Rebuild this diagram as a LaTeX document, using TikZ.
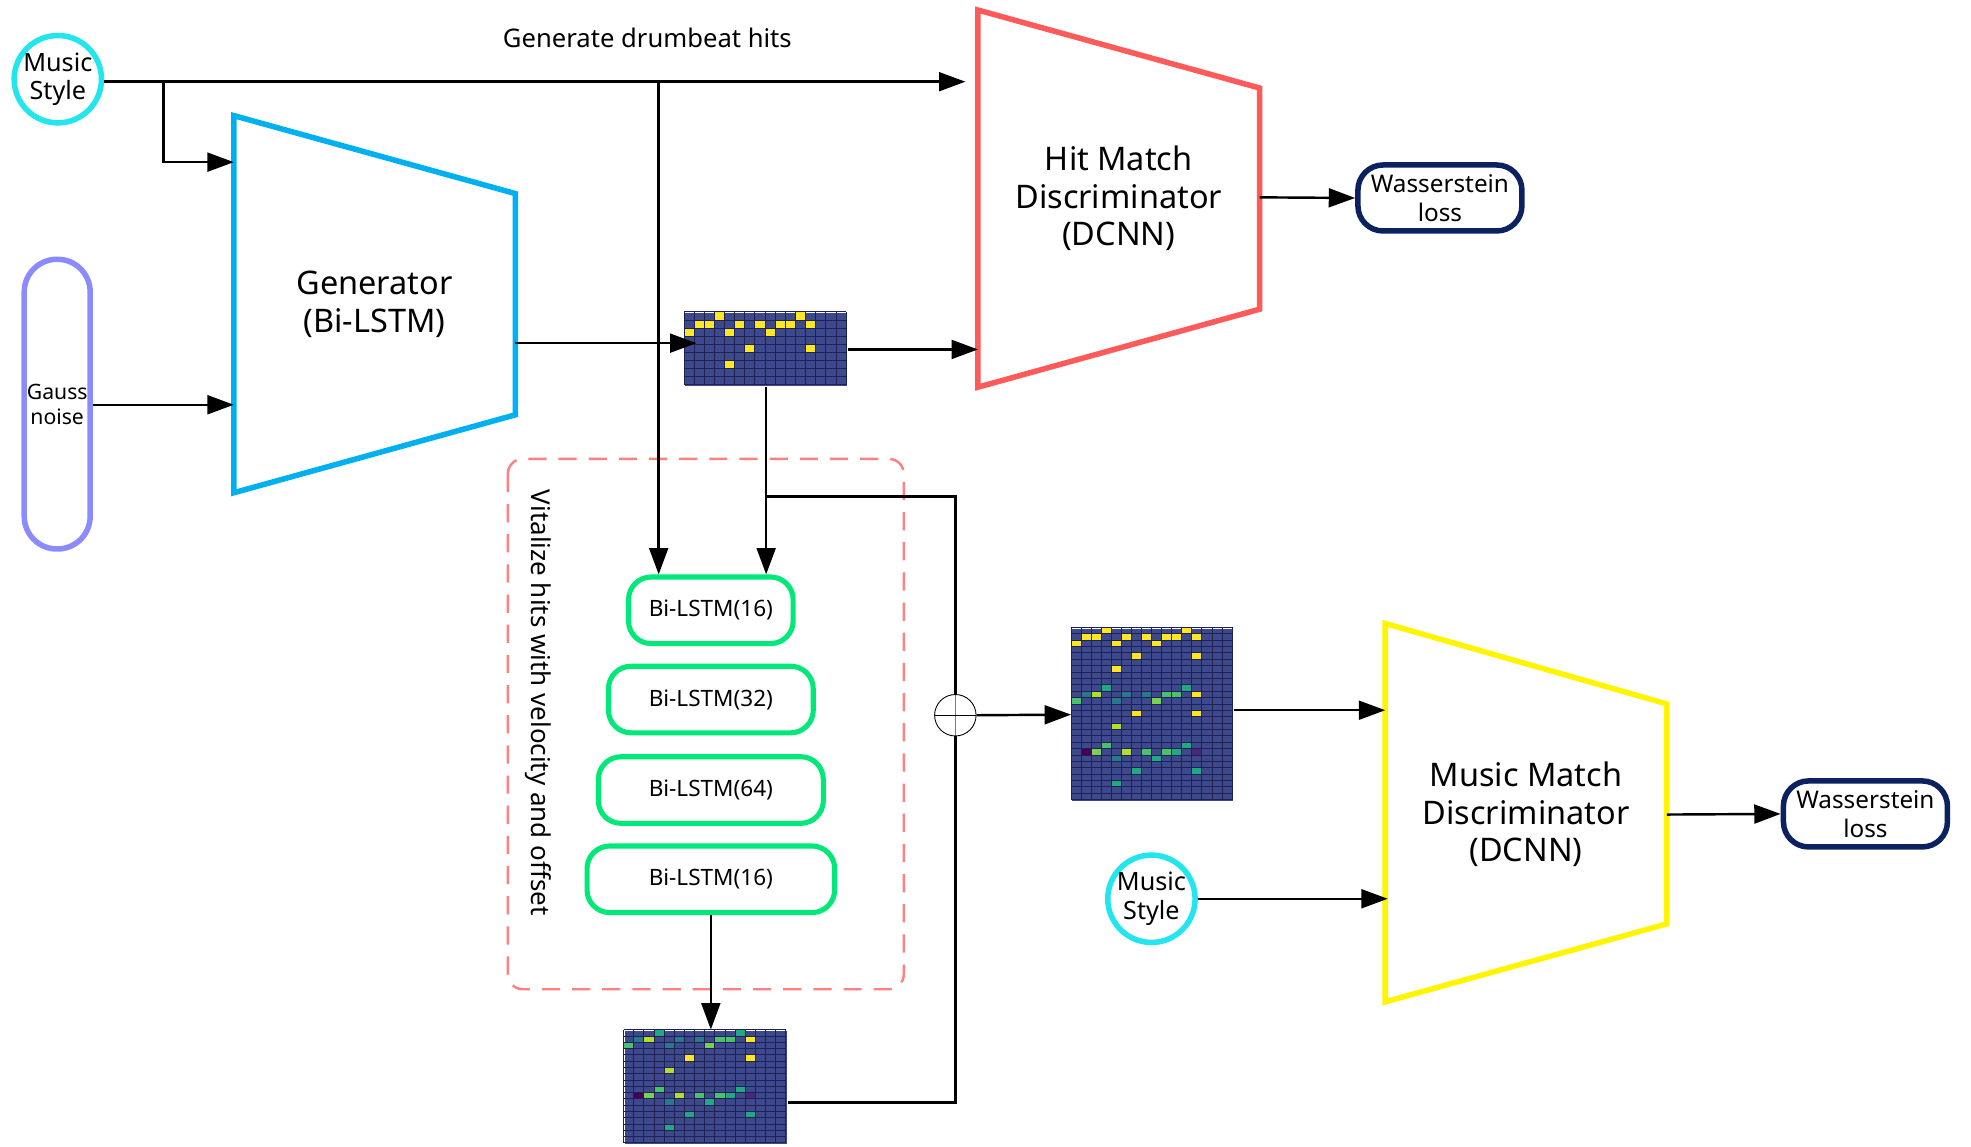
\documentclass[tikz,border=0pt]{standalone}
\usepackage{fontspec}
\setmainfont{Noto Sans}
\usetikzlibrary{arrows.meta,calc}

\definecolor{stylecyan}{RGB}{34,229,238}
\definecolor{noiseblue}{RGB}{139,139,255}
\definecolor{genblue}{RGB}{0,176,240}
\definecolor{hitred}{RGB}{255,90,90}
\definecolor{musicyel}{RGB}{255,245,0}
\definecolor{lossblue}{RGB}{11,33,96}
\definecolor{lstmgreen}{RGB}{0,232,120}
\definecolor{vitpink}{RGB}{255,128,128}
% piano roll colours (viridis)
\definecolor{rollbg}{RGB}{62,72,140}
\definecolor{rolldark}{RGB}{30,34,80}
\definecolor{vyel}{RGB}{253,231,37}
\definecolor{vyg}{RGB}{181,222,43}
\definecolor{vlg}{RGB}{122,209,81}
\definecolor{vgr}{RGB}{74,193,109}
\definecolor{vteal}{RGB}{34,168,132}
\definecolor{vdt}{RGB}{42,120,142}
\definecolor{vpur}{RGB}{68,1,84}
\definecolor{vpurb}{RGB}{72,40,120}

% hit cells (col/row/colour) and velocity cells
\newcommand{\hitcells}{3/0/vyel, 11/0/vyel, 1/1/vyel, 2/1/vyel, 5/1/vyel, 7/1/vyel, 9/1/vyel, 10/1/vyel, 12/1/vyel, 0/2/vyel, 4/2/vyel, 8/2/vyel, 6/4/vyel, 12/4/vyel, 4/6/vyel}
\newcommand{\velcells}{3/0/vteal, 11/0/vteal, 1/1/vdt, 2/1/vyg, 5/1/vdt, 7/1/vdt, 9/1/vgr, 10/1/vgr, 12/1/vyel, 0/2/vgr, 4/2/vdt, 8/2/vlg, 6/4/vyel, 12/4/vyel, 4/6/vyg, 3/9/vgr, 11/9/vteal, 1/10/vpur, 2/10/vlg, 5/10/vyg, 7/10/vgr, 9/10/vgr, 10/10/vteal, 12/10/vpurb, 4/11/vdt, 8/11/vteal, 6/13/vteal, 12/13/vteal, 4/15/vteal}

\begin{document}
\begin{tikzpicture}[x=0.02cm,y=-0.02cm,line width=1.1pt]
    % `link' is used for all arrows, `trap' for the three trapezoids.
    % `roll' is the background of a piano roll picture.
    \tikzstyle{link} = [-{Triangle[length=0.42cm,width=0.3cm]}]
    \tikzstyle{trap} = [line width=2.5pt,line join=miter,fill=white]
    \tikzstyle{musicstyle} = [draw=stylecyan,line width=2.5pt,circle,minimum size=1.39cm,inner sep=0pt,align=center,font=\fontsize{11.4}{12.8}\selectfont]
    \tikzstyle{loss} = [draw=lossblue,line width=2.5pt,rounded corners=0.4cm,minimum width=2.61cm,minimum height=1.05cm,inner sep=0pt,align=center,font=\fontsize{11}{13}\selectfont]
    \tikzstyle{lstm} = [draw=lstmgreen,line width=2.3pt,rounded corners=0.36cm,minimum height=1.06cm,inner sep=0pt,font=\fontsize{10.2}{12}\selectfont]
    \tikzstyle{bigtext} = [align=center,font=\fontsize{14.7}{17}\selectfont]
    \tikzstyle{roll} = [fill=rollbg,inner sep=0pt]
    \tikzstyle{rollline} = [line width=0.3pt,draw=rolldark]
    \tikzstyle{plus} = [draw,thin,circle,minimum size=0.66cm,inner sep=0pt,path picture={
\draw[thin,gray] (path picture bounding box.north) -- (path picture bounding box.south);
\draw[thin,black] (path picture bounding box.west) -- (path picture bounding box.east);
}]
    %
    \useasboundingbox (0,0) rectangle (1568,912);

    % Trapezoids.
    \draw[trap,draw=genblue] (186,92) -- (410,154) -- (410,330) -- (186,392) -- cycle;
    \draw[trap,draw=hitred] (778,8) -- (1002,70) -- (1002,246) -- (778,308) -- cycle;
    \draw[trap,draw=musicyel] (1102,496) -- (1326,560) -- (1326,735) -- (1102,797) -- cycle;
    \node[bigtext] (gentext) at (298,242) {Generator\\(Bi-LSTM)};
    \node[bigtext] (hittext) at (890,158) {Hit Match\\Discriminator\\(DCNN)};
    \node[bigtext] (musictext) at (1214,648) {Music Match\\Discriminator\\(DCNN)};
    \coordinate (genin1) at (186,129);
    \coordinate (genin2) at (186,322);
    \coordinate (genout) at (410,273);
    \coordinate (hitin1) at (768,65);
    \coordinate (hitin2) at (778,278);
    \coordinate (hitout) at (1002,157);
    \coordinate (musicin1) at (1102,565);
    \coordinate (musicin2) at (1104,715);
    \coordinate (musicout) at (1326,648);

    % Inputs and losses.
    \node[musicstyle] (style1) at (46,63) {Music\\Style};
    \node[musicstyle] (style2) at (916,715) {Music\\Style};
    \node[draw=noiseblue,line width=2.5pt,rounded corners=0.52cm,minimum width=1.05cm,minimum height=4.61cm,inner sep=0pt,align=center,font=\fontsize{9.6}{11.5}\selectfont] (noise) at (45.5,321.5) {Gauss\\noise};
    \node[loss] (loss1) at (1145.5,157.5) {Wasserstein\\loss};
    \node[loss] (loss2) at (1484,647.5) {Wasserstein\\loss};
    \node[font=\fontsize{11.6}{14}\selectfont] (hitlabel) at (515,30) {Generate drumbeat hits};

    % Velocity network.
    \draw[vitpink,dash pattern=on 0.29cm off 0.19cm,rounded corners=0.24cm] (404,365) rectangle (719,787);
    \node[rotate=-90,font=\fontsize{11.75}{14}\selectfont] (vitlabel) at (428,559) {Vitalize hits with velocity and offset};
    \node[lstm,minimum width=2.62cm] (lstm1) at (565.5,485.5) {Bi-LSTM(16)};
    \node[lstm,minimum width=3.26cm] (lstm2) at (565.5,556.5) {Bi-LSTM(32)};
    \node[lstm,minimum width=3.58cm] (lstm3) at (565.5,628.5) {Bi-LSTM(64)};
    \node[lstm,minimum width=3.94cm] (lstm4) at (565.5,699.5) {Bi-LSTM(16)};
    \node[plus] (sum) at (760,569) {};

    % Piano rolls.
    \node[roll,minimum width=2.58cm,minimum height=1.16cm] (roll1) at (609.5,278) {};
    \node[roll,minimum width=2.56cm,minimum height=2.74cm] (roll2) at (917,568.5) {};
    \node[roll,minimum width=2.58cm,minimum height=1.8cm] (roll3) at (561.5,865) {};
    \begin{scope}[shift={(roll1.north west)}]
      \foreach \c/\r/\k in \hitcells \fill[\k] (\c*8.06,\r*6.44) rectangle ++(8.06,6.44);
      \foreach \c in {0,...,16} \draw[rollline] (\c*8.06,0) -- ++(0,58);
      \foreach \r in {0,...,9} \draw[rollline] (0,\r*6.44) -- ++(129,0);
    \end{scope}
    \begin{scope}[shift={(roll2.north west)}]
      \foreach \c/\r/\k in \hitcells \fill[\k] (\c*8,\r*5.074) rectangle ++(8,5.074);
      \foreach \c/\r/\k in \velcells \fill[\k] (\c*8,\r*5.074+45.67) rectangle ++(8,5.074);
      \foreach \c in {0,...,16} \draw[rollline] (\c*8,0) -- ++(0,137);
      \foreach \r in {0,...,27} \draw[rollline] (0,\r*5.074) -- ++(128,0);
    \end{scope}
    \begin{scope}[shift={(roll3.north west)}]
      \foreach \c/\r/\k in \velcells \fill[\k] (\c*8.06,\r*5) rectangle ++(8.06,5);
      \foreach \c in {0,...,16} \draw[rollline] (\c*8.06,0) -- ++(0,90);
      \foreach \r in {0,...,18} \draw[rollline] (0,\r*5) -- ++(129,0);
    \end{scope}

    % Draw lines.
    \coordinate (split1) at (130,65);
    \coordinate (split2) at (524,65);
    \coordinate (split3) at (609.5,395);
    \draw[link] (style1.east |- split1) -- (hitin1);
    \draw[link] (split1) |- (genin1);
    \draw[link] (split2) -- (split2 |- lstm1.north);
    \draw[link] (noise.east |- genin2) -- (genin2);
    \draw[link] (genout) -- ([xshift=0.2cm]genout -| roll1.west);
    \draw[link] (roll1.east) -- (hitin2);
    \draw[link] (hitout) -- (loss1.west);
    \draw[link] (roll1.south) -- (roll1.south |- lstm1.north);
    \draw (split3) -| (sum.north);
    \draw ([yshift=-0.24cm]roll3.east) -| (sum.south);
    \draw[link] (lstm4.south) -- (lstm4.south |- roll3.north);
    \draw[link] (sum.east) -- (roll2.west);
    \draw[link] (roll2.east |- musicin1) -- (musicin1);
    \draw[link] (style2.east) -- (musicin2);
    \draw[link] (musicout) -- (loss2.west);
\end{tikzpicture}
\end{document}
